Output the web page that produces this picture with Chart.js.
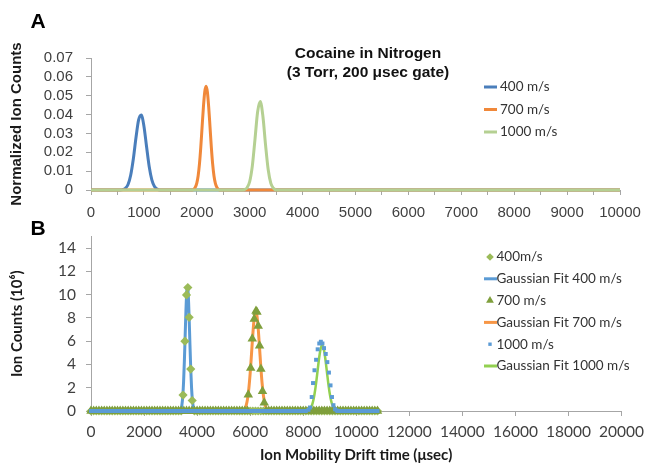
<!DOCTYPE html>
<html>
<head>
<meta charset="utf-8">
<script src="https://cdn.jsdelivr.net/npm/chart.js@4.4.1/dist/chart.umd.min.js"></script>
<style>
  body { margin: 0; background: #fff; }
  #wrap { position: relative; width: 651px; height: 466px; }
  canvas { position: absolute; left: 0; top: 0; }
</style>
</head>
<body>
<div id="wrap">
  <canvas id="chartA" width="651" height="466"></canvas>
  <canvas id="chartB" width="651" height="466"></canvas>
</div>
<script>
// ---- Panel A: normalized ion counts vs drift time ----
var aSeries = ['400 m/s', '700 m/s', '1000 m/s'];
var a400Time = [0, 550, 600, 650, 700, 750, 800, 850, 900, 950, 1000, 1050, 1100, 1150, 1200, 1250, 1300, 10000];
var a400Counts = [0, 0, 0.0002, 0.0009, 0.0029, 0.0078, 0.0164, 0.0277, 0.0372, 0.0398, 0.0340, 0.0231, 0.0125, 0.0054, 0.0019, 0.0005, 0, 0];
var a700Time = [0, 1925, 1950, 1975, 2000, 2025, 2050, 2075, 2100, 2125, 2150, 2175, 2200, 2225, 2250, 2275, 2300, 2325, 2350, 2375, 2400, 2425, 10000];
var a700Counts = [0, 0, 0.0006, 0.0016, 0.0036, 0.0074, 0.0137, 0.0226, 0.0334, 0.0440, 0.0520, 0.0550, 0.0520, 0.0440, 0.0334, 0.0226, 0.0137, 0.0074, 0.0036, 0.0016, 0.0006, 0, 0];
var a1000Time = [0, 2850, 2900, 2950, 3000, 3050, 3100, 3150, 3200, 3250, 3300, 3350, 3400, 3450, 3500, 10000];
var a1000Counts = [0, 0, 0.0002, 0.0012, 0.0045, 0.0128, 0.0269, 0.0415, 0.0469, 0.0390, 0.0238, 0.0107, 0.0035, 0.0009, 0, 0];

// ---- Panel B: ion counts (10^6) with Gaussian fits ----
var bSeries = ['400m/s', 'Gaussian Fit 400 m/s', '700 m/s', 'Gaussian Fit 700 m/s', '1000 m/s', 'Gaussian Fit 1000 m/s'];
// sample times where the measured signal sits at zero
var baseTimes = [0, 100, 200, 300, 400, 500, 600, 700, 800, 900, 1000, 1100, 1200, 1300, 1400, 1500, 1600, 1700, 1800, 1900,
  2000, 2100, 2200, 2300, 2400, 2500, 2600, 2700, 2800, 2900, 3000, 3100, 3200, 3300, 3400, 3500, 3600, 3700, 3800, 3900,
  4000, 4100, 4200, 4300, 4400, 4500, 4600, 4700, 4800, 4900, 5000, 5100, 5200, 5300, 5400, 5500, 5600, 5700, 5800, 5900,
  6000, 6100, 6200, 6300, 6400, 6500, 6600, 6700, 6800, 6900, 7000, 7100, 7200, 7300, 7400, 7500, 7600, 7700, 7800, 7900,
  8000, 8100, 8200, 8300, 8400, 8500, 8600, 8700, 8800, 8900, 9000, 9100, 9200, 9300, 9400, 9500, 9600, 9700, 9800, 9900,
  10000, 10100, 10200, 10300, 10400, 10500, 10600, 10700, 10800];
var b400Time = [3470, 3540, 3600, 3650, 3700, 3760, 3815];
var b400Counts = [1.37, 6.0, 9.97, 10.6, 8.05, 3.6, 0.9];
var fit400Time = [0, 3370, 3400, 3430, 3460, 3490, 3520, 3550, 3580, 3610, 3640, 3670, 3700, 3730, 3760, 3790, 3820, 3850, 3880, 3910, 3940, 10800];
var fit400Counts = [0, 0, 0.23, 0.58, 1.28, 2.50, 4.28, 6.49, 8.68, 10.25, 10.68, 9.83, 7.99, 5.73, 3.63, 2.03, 1.00, 0.44, 0.17, 0.05, 0, 0];
var b700Time = [5930, 6020, 6080, 6155, 6220, 6255, 6305, 6355, 6405, 6465, 6530];
var b700Counts = [1.4, 3.7, 6.2, 7.9, 8.6, 8.5, 7.3, 5.6, 3.6, 1.7, 0.7];
var fit700Time = [0, 5650, 5700, 5750, 5800, 5850, 5900, 5950, 6000, 6050, 6100, 6150, 6200, 6250, 6300, 6350, 6400, 6450, 6500, 6550, 6600, 6650, 6700, 6750, 10800];
var fit700Counts = [0, 0, 0.03, 0.08, 0.21, 0.48, 1.02, 1.92, 3.23, 4.87, 6.57, 7.94, 8.58, 8.30, 7.18, 5.56, 3.86, 2.39, 1.33, 0.66, 0.29, 0.12, 0.04, 0, 0];
var b1000Time = [8200, 8260, 8320, 8370, 8425, 8485, 8545, 8605, 8665, 8725, 8785, 8850, 8910, 8970, 9030, 9085, 9140, 9200, 9260];
var b1000Counts = [0.1, 0.3, 1.2, 2.4, 3.5, 4.4, 5.3, 5.8, 5.95, 5.8, 5.4, 4.9, 4.2, 3.3, 2.2, 1.2, 0.5, 0.15, 0.05];
var fit1000Time = [0, 8150, 8200, 8250, 8300, 8350, 8400, 8450, 8500, 8550, 8600, 8650, 8700, 8750, 8800, 8850, 8900, 8950, 9000, 9050, 9100, 9150, 9200, 9250, 9300, 9350, 10800];
var fit1000Counts = [0, 0, 0.07, 0.17, 0.34, 0.64, 1.12, 1.80, 2.66, 3.62, 4.55, 5.27, 5.63, 5.54, 5.02, 4.20, 3.23, 2.29, 1.50, 0.90, 0.50, 0.26, 0.12, 0.05, 0.02, 0, 0];

var gray = '#a6a6a6';
var tickColor = '#404040';

function pairs(times, counts) {
    return times.map(function (t, i) { return { x: t, y: counts[i] }; });
}

// measured points plus the zero readings outside the peak
function withBaseline(times, counts) {
    var first = times[0], last = times[times.length - 1];
    var pts = baseTimes.filter(function (t) { return t < first || t > last; })
        .map(function (t) { return { x: t, y: 0 }; });
    return pts.concat(pairs(times, counts)).sort(function (a, b) { return a.x - b.x; });
}

// draws panel letter, in-plot title and in-plot legend
var panelText = {
    id: 'panelText',
    afterDraw: function (chart, args, opts) {
        var ctx = chart.ctx;
        ctx.save();
        ctx.fillStyle = '#000';
        ctx.textBaseline = 'middle';
        ctx.textAlign = 'center';
        ctx.font = 'bold 21px "Liberation Sans", Arial, sans-serif';
        ctx.fillText(opts.letter, opts.letterX, opts.letterY);

        ctx.fillStyle = '#111';
        ctx.font = 'bold 15.5px "Liberation Sans", Arial, sans-serif';
        (opts.title || []).forEach(function (line, i) {
            ctx.fillText(line, opts.titleX, opts.titleY + i * 19);
        });

        ctx.textAlign = 'left';
        ctx.font = '13.5px Lato, sans-serif';
        chart.data.datasets.forEach(function (ds, i) {
            var y = opts.legendY + i * opts.legendGap;
            var x = opts.legendX;
            if (ds.showLine === false) {
                ctx.fillStyle = ds.pointBackgroundColor;
                Chart.helpers.drawPoint(ctx, {
                    pointStyle: ds.pointStyle, radius: ds.legendRadius, rotation: 0, borderWidth: 0
                }, x + 6, y);
            } else {
                ctx.strokeStyle = ds.borderColor;
                ctx.lineWidth = 3;
                ctx.beginPath();
                ctx.moveTo(x, y);
                ctx.lineTo(x + 13, y);
                ctx.stroke();
            }
            ctx.fillStyle = '#333';
            ctx.fillText(ds.label, x + opts.textOffset, y);
        });
        ctx.restore();
    }
};

function lineSet(label, data, color, width, order) {
    return {
        label: label, data: data, borderColor: color, backgroundColor: color,
        borderWidth: width, pointRadius: 0, cubicInterpolationMode: 'monotone',
        fill: false, order: order, clip: false
    };
}

function markerSet(label, data, color, style, radius, legendRadius, order) {
    return {
        label: label, data: data, showLine: false, pointStyle: style,
        pointRadius: radius, pointBorderWidth: 0, pointBackgroundColor: color,
        pointBorderColor: color, backgroundColor: color, borderColor: color,
        legendRadius: legendRadius, order: order, clip: false
    };
}

var chartA = new Chart(document.getElementById('chartA'), {
    type: 'line',
    data: {
        datasets: [
            lineSet(aSeries[0], pairs(a400Time, a400Counts), '#4a7ebb', 3, 3),
            lineSet(aSeries[1], pairs(a700Time, a700Counts), '#f0883a', 3, 2),
            lineSet(aSeries[2], pairs(a1000Time, a1000Counts), '#b5d092', 3, 1)
        ]
    },
    options: {
        responsive: false,
        animation: false,
        layout: { padding: { top: 58, right: 31, left: 0, bottom: 0 } },
        plugins: {
            legend: { display: false },
            tooltip: { enabled: false },
            panelText: {
                letter: 'A', letterX: 38, letterY: 22,
                title: ['Cocaine in Nitrogen', '(3 Torr, 200 \u03bcsec gate)'], titleX: 368, titleY: 54,
                legendX: 484, legendY: 87, legendGap: 22.5, textOffset: 16
            }
        },
        scales: {
            x: {
                type: 'linear', min: 0, max: 10000,
                afterFit: function (s) { s.height = 466 - 190; },
                ticks: {
                    stepSize: 500, autoSkip: false, maxRotation: 0, padding: 9,
                    color: tickColor, font: { family: '"Liberation Sans", Arial', size: 15 },
                    callback: function (v) { return v % 1000 === 0 ? String(v) : ''; }
                },
                grid: { drawOnChartArea: false, drawTicks: true, tickLength: 5, color: gray },
                border: { color: gray, width: 1 }
            },
            y: {
                min: 0, max: 0.07,
                afterFit: function (s) { s.width = 91; },
                ticks: {
                    stepSize: 0.01, autoSkip: false, padding: 13, color: tickColor,
                    font: { family: '"Liberation Sans", Arial', size: 15 },
                    callback: function (v) { return v === 0 ? '0' : v.toFixed(2); }
                },
                grid: { drawOnChartArea: false, drawTicks: true, tickLength: 5, color: gray },
                border: { color: gray, width: 1 },
                title: {
                    display: true, text: 'Normalized Ion Counts', color: '#1a1a1a',
                    font: { family: '"Liberation Sans", Arial', size: 15, weight: 'bold' },
                    padding: { top: 8, bottom: 0 }
                }
            }
        }
    },
    plugins: [panelText]
});

var chartB = new Chart(document.getElementById('chartB'), {
    type: 'line',
    data: {
        datasets: [
            markerSet(bSeries[0], withBaseline(b400Time, b400Counts), '#9bbb59', 'rectRot', 4.6, 3.8, 3),
            lineSet(bSeries[1], pairs(fit400Time, fit400Counts), '#5b9bd5', 3, 6),
            markerSet(bSeries[2], withBaseline(b700Time, b700Counts), '#7f9f3c', 'triangle', 5.5, 4.5, 2),
            lineSet(bSeries[3], pairs(fit700Time, fit700Counts), '#f79646', 3, 5),
            markerSet(bSeries[4], withBaseline(b1000Time, b1000Counts), '#5b9bd5', 'rect', 2.8, 2.4, 1),
            lineSet(bSeries[5], pairs(fit1000Time, fit1000Counts), '#92d050', 2.5, 4)
        ]
    },
    options: {
        responsive: false,
        animation: false,
        layout: { padding: { top: 236.4, right: 24, left: 0, bottom: 0 } },
        plugins: {
            legend: { display: false },
            tooltip: { enabled: false },
            panelText: {
                letter: 'B', letterX: 38, letterY: 229,
                legendX: 484, legendY: 257, legendGap: 21.8, textOffset: 12.5
            }
        },
        scales: {
            x: {
                type: 'linear', min: 0, max: 20000,
                afterFit: function (s) { s.height = 466 - 411; },
                ticks: {
                    stepSize: 2000, autoSkip: false, maxRotation: 0, padding: 7,
                    color: tickColor, font: { family: 'Lato', size: 15.5 },
                    callback: function (v) { return String(v); }
                },
                grid: { drawOnChartArea: false, drawTicks: true, tickLength: 5, color: gray },
                border: { color: gray, width: 1 },
                title: {
                    display: true, text: 'Ion Mobility Drift time (\u03bcsec)', color: '#1a1a1a',
                    font: { family: 'Lato', size: 15, weight: 'bold' },
                    padding: { top: 0, bottom: 1.5 }
                }
            },
            y: {
                min: 0, max: 15,
                afterFit: function (s) { s.width = 91; },
                ticks: {
                    stepSize: 2, includeBounds: false, autoSkip: false, padding: 10, color: tickColor,
                    font: { family: 'Lato', size: 15.5 }
                },
                grid: { drawOnChartArea: false, drawTicks: true, tickLength: 5, color: gray },
                border: { color: gray, width: 1 },
                title: {
                    display: true, text: 'Ion Counts (10\u2076)', color: '#1a1a1a',
                    font: { family: 'Lato', size: 15, weight: 'bold' },
                    padding: { top: 8.5, bottom: 0 }
                }
            }
        }
    },
    plugins: [panelText]
});
</script>
</body>
</html>
